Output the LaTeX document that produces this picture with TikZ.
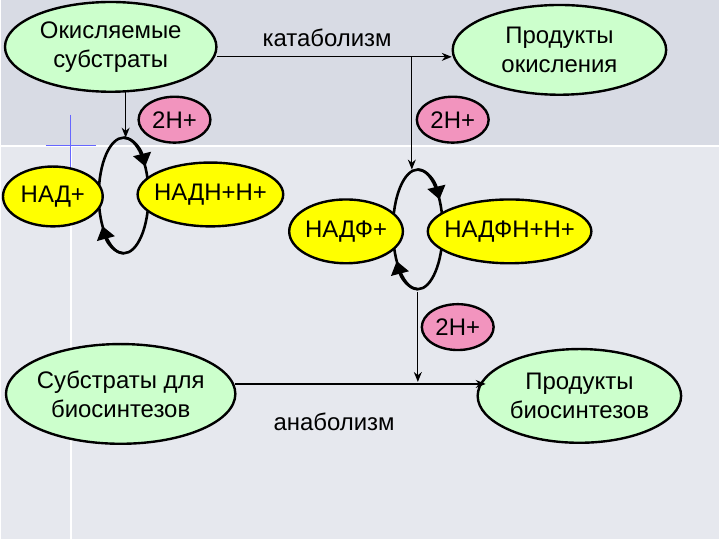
\documentclass[tikz,border=0pt]{standalone}
\usepackage{fontspec}
\setmainfont{Liberation Sans}
\usetikzlibrary{arrows.meta,shapes.geometric}
\definecolor{bgtop}{HTML}{D8DBE4}
\definecolor{bgbot}{HTML}{E6E8EE}
\definecolor{gr}{HTML}{CCFFCC}
\definecolor{pk}{HTML}{F294BE}
\definecolor{ye}{HTML}{FFFF00}
\newcommand{\Ell}[7]{%
  \filldraw[fill=#6,line width=2.4pt] (#2,#3) ellipse [x radius=#4,y radius=#5];
  \node[txt] (#1) at (#2,#3) {#7};}
\begin{document}
\begin{tikzpicture}[x=1pt,y=-1pt,
  txt/.style={inner sep=0pt,font=\fontsize{24}{29}\selectfont,align=center},
  thin/.style={line width=1.2pt,-{Stealth[length=10pt,width=8pt]}},
  cyc/.style={line width=2.6pt},
  cyca/.style={line width=2.6pt,-{Triangle[length=13pt,width=18pt]}}]
\fill[bgbot] (0,0) rectangle (720,540);
\fill[bgtop] (0,0) rectangle (720,145);
\draw[white,line width=2pt] (0,146) -- (720,146);
\draw[white,line width=2pt] (70,146) -- (70,540);
\draw[blue!60,line width=0.8pt] (70,115) -- (70,175) (45,146) -- (95,146);
\useasboundingbox (0,0) rectangle (720,540);

\Ell{ok}{110}{47}{106}{45}{gr}{Окисляемые\\субстраты}
\Ell{po}{560}{50}{107}{45}{gr}{Продукты\\окисления}
\node[txt] (kat) at (327,38) {катаболизм};
\Ell{h1}{174}{120}{36}{23}{pk}{2Н+}
\Ell{h2}{453}{120}{36}{23}{pk}{2Н+}
\Ell{h3}{458}{328}{36}{23}{pk}{2Н+}
\Ell{sb}{120}{395}{115}{50}{gr}{Субстраты для\\биосинтезов}
\Ell{pb}{580}{397}{102}{47}{gr}{Продукты\\биосинтезов}
\node[txt] (ana) at (334,423) {анаболизм};

\coordinate (k1) at (217,57);
\coordinate (k2) at (452,57);
\coordinate (kv) at (412,57);
\coordinate (kd) at (412,170);
\coordinate (l1) at (125,92);
\coordinate (l2) at (125,138);
\coordinate (a1) at (235,385);
\coordinate (a2) at (486,385);
\coordinate (av) at (418,293);
\coordinate (ad) at (418,383);

\draw[thin] (k1) -- (k2);
\draw[thin] (kv) -- (kd);
\draw[thin] (l1) -- (l2);
\draw[thin] (a1) -- (a2);
\draw[thin] (av) -- (ad);

% cycle 1
\coordinate (c1) at (123,196);
\draw[cyc] (c1) ellipse [x radius=25,y radius=58];
\draw[cyca] (123,138) arc[start angle=270,end angle=330,x radius=25,y radius=58];
\draw[cyca] (123,254) arc[start angle=90,end angle=148,x radius=25,y radius=58];
% cycle 2
\coordinate (c2) at (418,230);
\draw[cyc] (c2) ellipse [x radius=25,y radius=60];
\draw[cyca] (418,170) arc[start angle=270,end angle=330,x radius=25,y radius=60];
\draw[cyca] (418,290) arc[start angle=90,end angle=148,x radius=25,y radius=60];
\Ell{nadf}{346}{232}{57}{32}{ye}{НАДФ+}
\Ell{nadfh}{510}{232}{82}{32}{ye}{НАДФН+Н+}
\Ell{nad}{52}{197}{50}{30}{ye}{НАД+}
\Ell{nadh}{210}{195}{73}{32}{ye}{НАДН+Н+}
\end{tikzpicture}
\end{document}
